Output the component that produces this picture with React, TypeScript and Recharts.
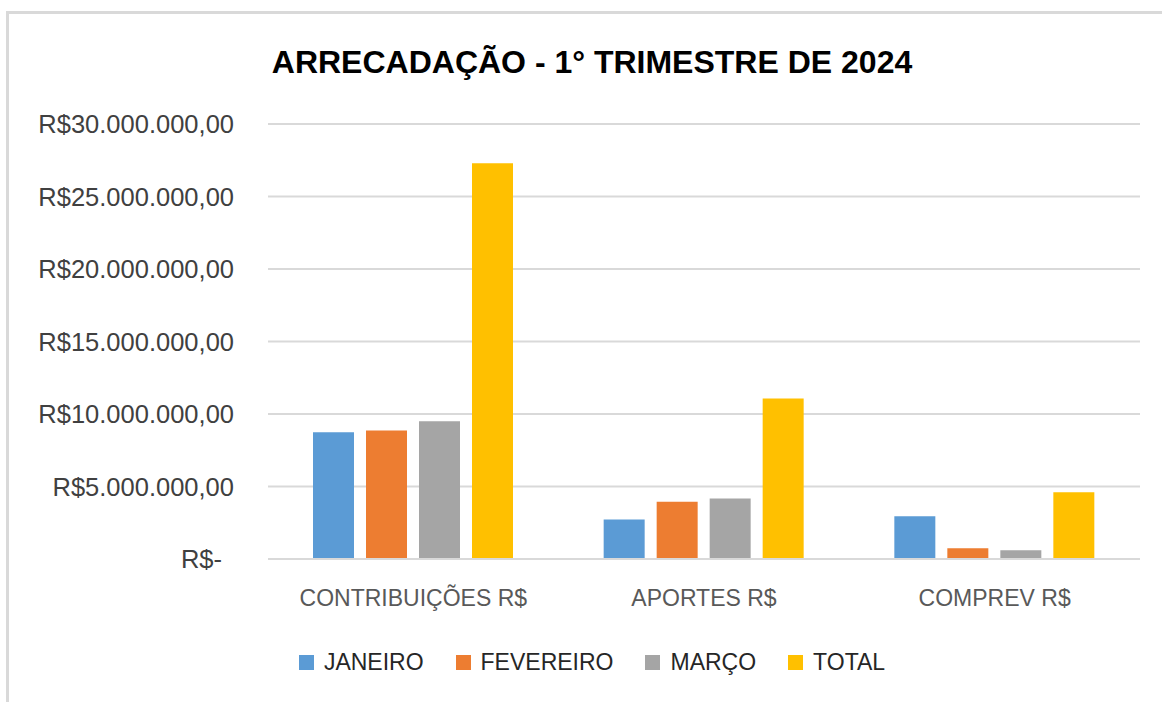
import React from 'react';
import { BarChart, Bar, XAxis, YAxis, CartesianGrid, Legend } from 'recharts';

const CATEGORIES = ['CONTRIBUIÇÕES R$', 'APORTES R$', 'COMPREV R$'];
const JANEIRO = [8750000, 2730000, 2940000];
const FEVEREIRO = [8860000, 3950000, 740000];
const MARCO = [9500000, 4180000, 600000];
const TOTAL = [27300000, 11070000, 4610000];
const Y_TICKS = [0, 5000000, 10000000, 15000000, 20000000, 25000000, 30000000];

const SERIES = [
  { key: 'janeiro', name: 'JANEIRO', color: '#5B9BD5' },
  { key: 'fevereiro', name: 'FEVEREIRO', color: '#ED7D31' },
  { key: 'marco', name: 'MARÇO', color: '#A5A5A5' },
  { key: 'total', name: 'TOTAL', color: '#FFC000' },
];

const data = CATEGORIES.map((name, i) => ({
  name,
  janeiro: JANEIRO[i],
  fevereiro: FEVEREIRO[i],
  marco: MARCO[i],
  total: TOTAL[i],
}));

const FONT = '"Liberation Sans", Arial, sans-serif';

// Excel accounting style: R$30.000.000,00 and R$- for zero
const formatBRL = (v: number) => {
  if (v === 0) return 'R$-';
  const int = Math.floor(v).toString().replace(/\B(?=(\d{3})+(?!\d))/g, '.');
  return `R$${int},00`;
};

const YTick = (props: any) => {
  const { x, y, payload } = props;
  const zero = payload.value === 0;
  return (
    <text
      x={x}
      y={y}
      dx={zero ? -12 : 0}
      dy="0.355em"
      textAnchor="end"
      fill="#404040"
      fontSize={25.5}
      fontFamily={FONT}
    >
      {formatBRL(payload.value)}
    </text>
  );
};

const LegendContent = () => (
  <div
    style={{
      display: 'flex',
      justifyContent: 'center',
      alignItems: 'center',
      height: 40,
      fontFamily: FONT,
      fontSize: 23,
      color: '#262626',
    }}
  >
    {SERIES.map((s) => (
      <div key={s.key} style={{ display: 'flex', alignItems: 'center', margin: '0 16px' }}>
        <span style={{ width: 15, height: 15, background: s.color, marginRight: 10 }} />
        <span>{s.name}</span>
      </div>
    ))}
  </div>
);

export default function App() {
  return (
    <div
      style={{
        position: 'absolute',
        left: 0,
        top: 0,
        width: 1162,
        height: 702,
        background: '#fff',
        overflow: 'hidden',
      }}
    >
      {/* sheet frame */}
      <div
        style={{
          position: 'absolute',
          left: 6,
          top: 11,
          width: 1200,
          height: 720,
          borderLeft: '3px solid #d9d9d9',
          borderTop: '3px solid #d9d9d9',
        }}
      />
      <div
        style={{
          position: 'absolute',
          left: 8,
          width: 1168,
          top: 44,
          textAlign: 'center',
          fontFamily: FONT,
          fontWeight: 'bold',
          fontSize: 32,
          color: '#000',
        }}
      >
        ARRECADAÇÃO - 1° TRIMESTRE DE 2024
      </div>
      <div style={{ position: 'absolute', left: 0, top: 0 }}>
        <BarChart
          width={1162}
          height={702}
          data={data}
          margin={{ top: 124, right: 22, bottom: 20, left: 0 }}
          barCategoryGap={45}
          barGap={12}
        >
          <CartesianGrid vertical={false} stroke="#d9d9d9" strokeWidth={2} />
          <XAxis
            dataKey="name"
            interval={0}
            height={83}
            tickLine={false}
            tickSize={0}
            tickMargin={31}
            axisLine={{ stroke: '#d9d9d9', strokeWidth: 2 }}
            tick={{ fill: '#595959', fontSize: 23, fontFamily: FONT }}
          />
          <YAxis
            width={268}
            domain={[0, 30000000]}
            ticks={Y_TICKS}
            interval={0}
            axisLine={false}
            tickLine={false}
            tickSize={0}
            tickMargin={34}
            tick={<YTick />}
          />
          <Legend
            verticalAlign="bottom"
            content={<LegendContent />}
            wrapperStyle={{ left: 8, width: 1168 }}
          />
          {SERIES.map((s) => (
            <Bar
              key={s.key}
              dataKey={s.key}
              name={s.name}
              fill={s.color}
              isAnimationActive={false}
            />
          ))}
        </BarChart>
      </div>
    </div>
  );
}
